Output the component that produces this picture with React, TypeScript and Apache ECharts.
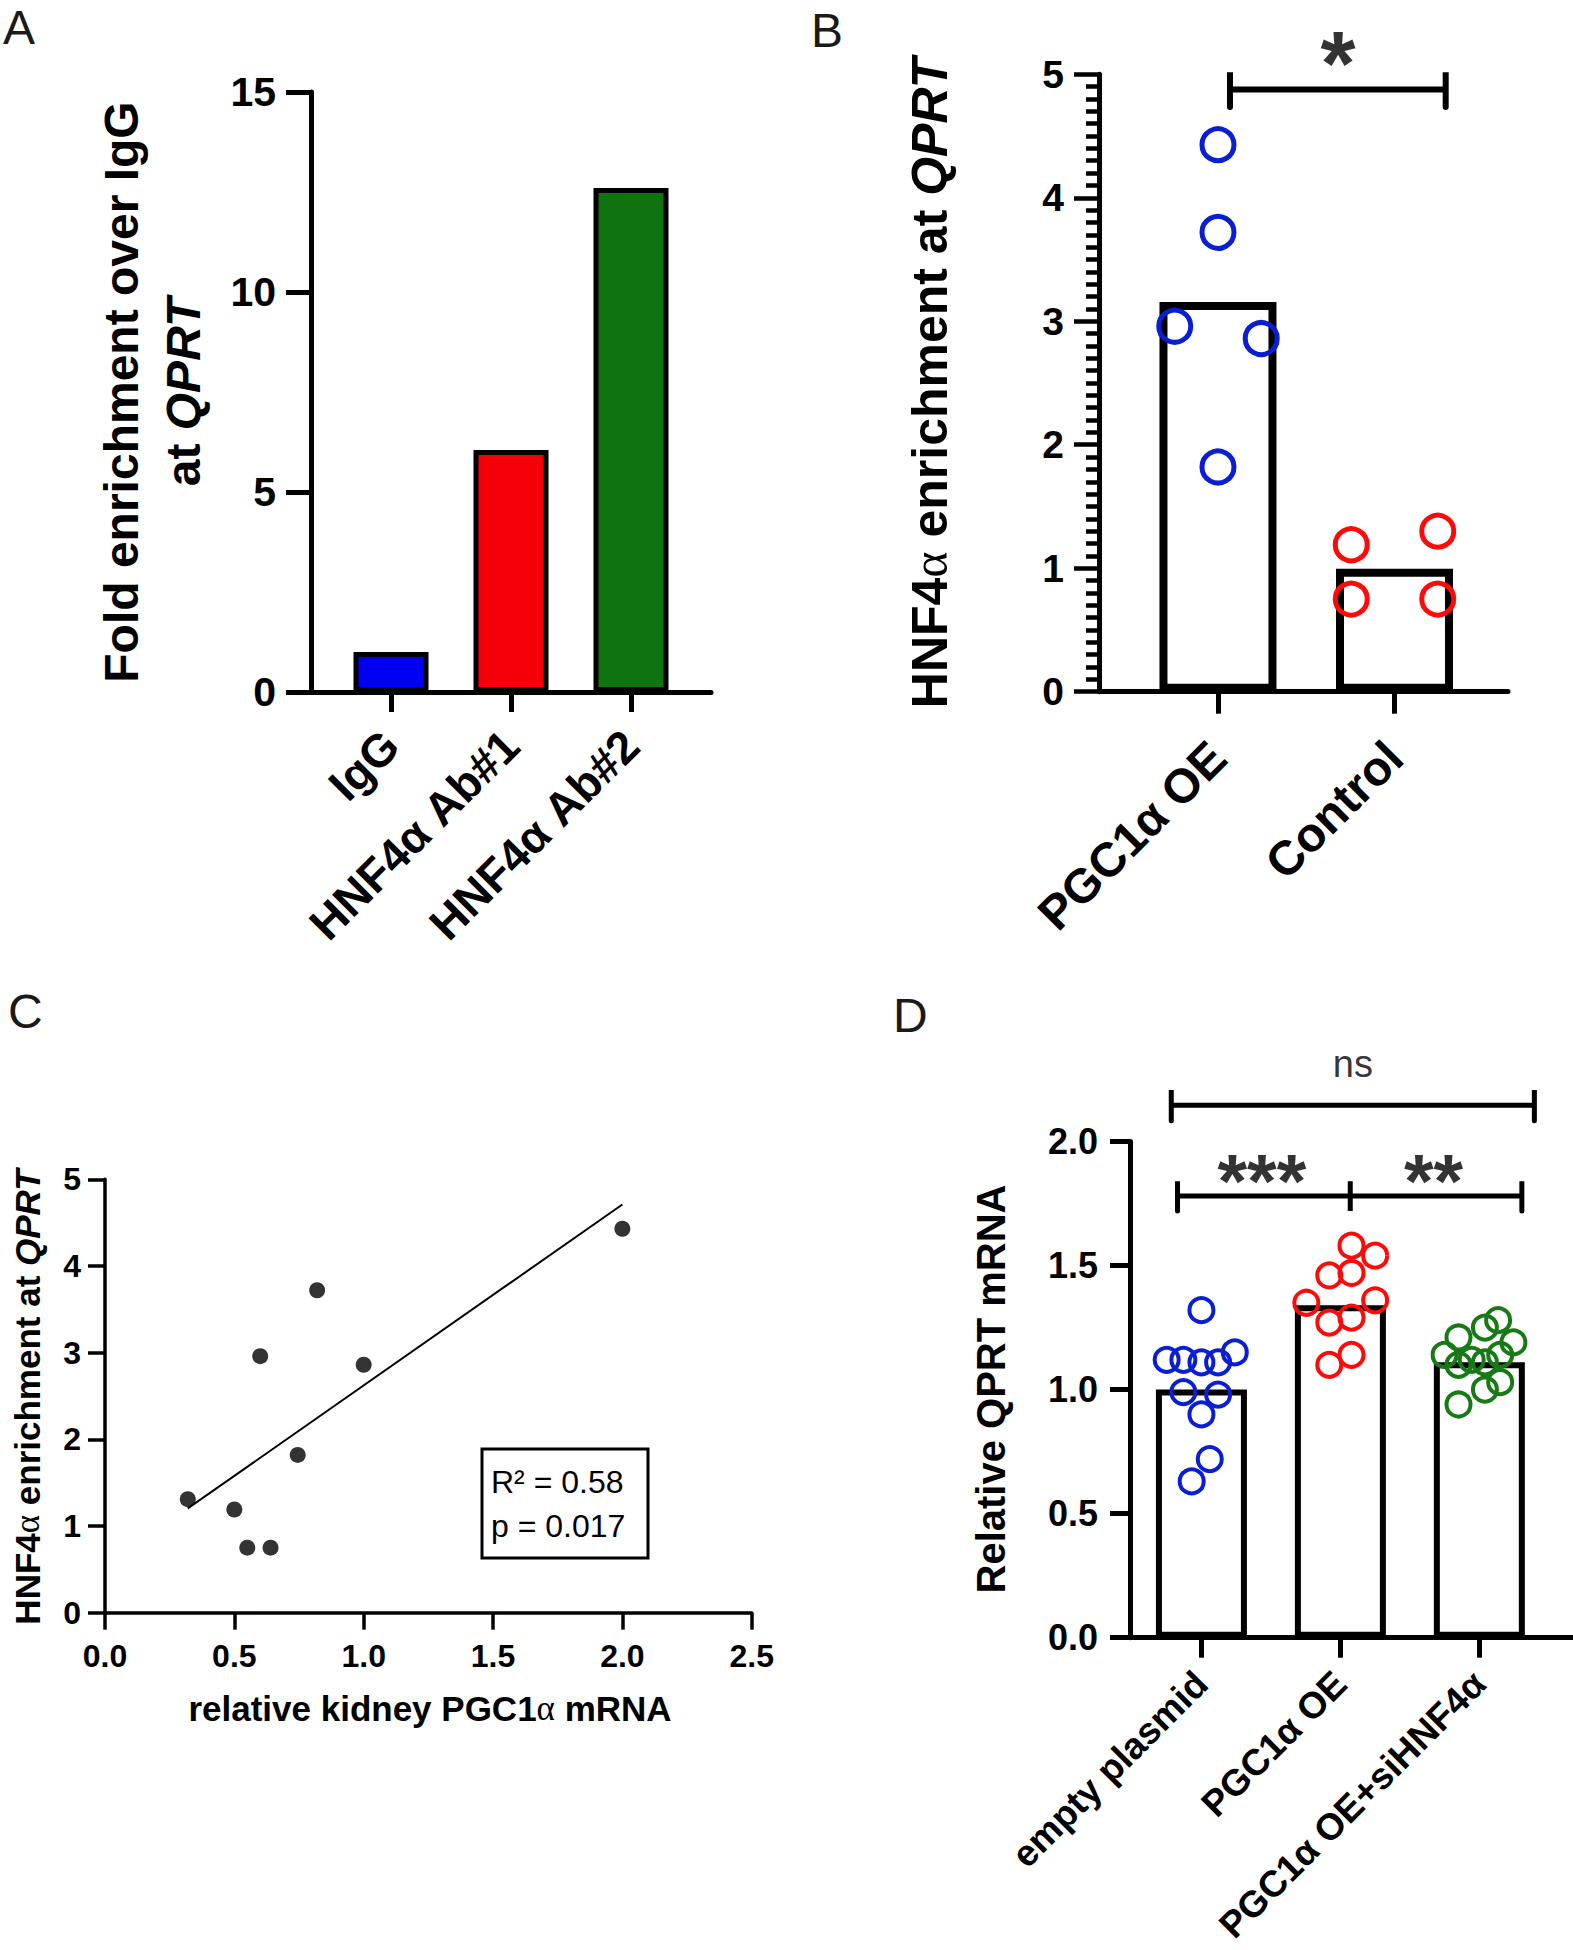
import React, { useEffect, useRef } from 'react';
import * as echarts from 'echarts';

const FONT = '"Liberation Sans", Arial, Helvetica, sans-serif';

// ---------- Panel A ----------
const aCategories = ['IgG', 'HNF4α Ab#1', 'HNF4α Ab#2'];
const aValues = [1.0, 6.05, 12.6];
const aColors = ['#0000f5', '#f5000a', '#0f730f'];

// ---------- Panel B ----------
const bCategories = ['PGC1α OE', 'Control'];
const bMeans = [3.155, 0.995];
const bOE = [4.43, 3.72, 2.96, 2.86, 1.82];
const bOEJitter = [0, 0, -0.245, 0.245, 0];
const bControl = [1.19, 1.3, 0.75, 0.75];
const bControlJitter = [-0.245, 0.245, -0.245, 0.245];

// ---------- Panel C ----------
const cX = [0.32, 0.5, 0.55, 0.64, 0.6, 0.745, 0.82, 1.0, 2.0];
const cY = [1.31, 1.19, 0.75, 0.75, 2.96, 1.82, 3.72, 2.86, 4.43];
const cR2 = '0.58';
const cP = '0.017';

// ---------- Panel D ----------
const dCategories = ['empty plasmid', 'PGC1α OE', 'PGC1α OE+siHNF4α'];
const dMeans = [1.0, 1.34, 1.11];
const dEmpty = [1.32, 1.12, 1.12, 1.11, 1.11, 1.15, 0.99, 0.98, 0.9, 0.72, 0.63];
const dEmptyJitter = [0, -0.25, -0.13, 0, 0.12, 0.24, -0.13, 0.12, 0, 0.06, -0.07];
const dOE = [1.58, 1.54, 1.46, 1.47, 1.35, 1.36, 1.27, 1.29, 1.14, 1.1];
const dOEJitter = [0.08, 0.25, -0.08, 0.08, -0.245, 0.25, -0.08, 0.08, 0.08, -0.08];
const dSi = [1.28, 1.25, 1.19, 1.21, 1.14, 1.14, 1.1, 1.12, 1.11, 1.03, 1.0, 0.94];
const dSiJitter = [0.135, 0.04, 0.245, -0.15, -0.25, 0.15, -0.15, -0.055, 0.04, 0.15, 0.04, -0.15];

const BLUE = '#0a1ed2';
const RED = '#ff0a0a';
const GREEN = '#177a17';

function bracket(x1: number, x2: number, y: number, cap: number, mid?: number) {
  const pts: number[][] = [[x1, y - cap], [x1, y + cap], [x1, y]];
  if (mid !== undefined) {
    pts.push([mid, y], [mid, y + cap], [mid, y - cap], [mid, y]);
  }
  pts.push([x2, y], [x2, y + cap], [x2, y - cap]);
  return pts;
}

function regression(xs: number[], ys: number[]) {
  const n = xs.length;
  const mx = xs.reduce((a, b) => a + b, 0) / n;
  const my = ys.reduce((a, b) => a + b, 0) / n;
  let sxy = 0;
  let sxx = 0;
  for (let i = 0; i < n; i++) {
    sxy += (xs[i] - mx) * (ys[i] - my);
    sxx += (xs[i] - mx) * (xs[i] - mx);
  }
  const slope = sxy / sxx;
  const icpt = my - slope * mx;
  const x0 = Math.min(...xs);
  const x1 = Math.max(...xs);
  return [[x0, icpt + slope * x0], [x1, icpt + slope * x1]];
}

function catXAxis(gridIndex: number, min: number, max: number, cats: string[], o: any) {
  const vals = cats.map((_, i) => i);
  return {
    gridIndex,
    type: 'value',
    min,
    max,
    axisLine: { onZero: false, lineStyle: { color: '#000', width: o.lineW } },
    axisTick: { customValues: vals, length: o.tickLen, lineStyle: { color: '#000', width: o.lineW } },
    axisLabel: {
      customValues: vals,
      formatter: (v: number) => cats[Math.round(v)] ?? '',
      rotate: 45,
      fontSize: o.fontSize,
      fontWeight: 'bold',
      fontFamily: FONT,
      color: '#000',
      margin: o.margin,
    },
    splitLine: { show: false },
  };
}

function valAxis(gridIndex: number, o: any) {
  return {
    gridIndex,
    type: 'value',
    min: o.min,
    max: o.max,
    interval: o.interval,
    axisLine: { show: true, onZero: false, lineStyle: { color: '#000', width: o.lineW } },
    axisTick: { show: true, length: o.tickLen, lineStyle: { color: '#000', width: o.tickW ?? o.lineW } },
    minorTick: o.minor
      ? { show: true, splitNumber: 10, length: o.minor, lineStyle: { color: '#000', width: o.tickW ?? o.lineW } }
      : { show: false },
    axisLabel: {
      formatter: o.formatter,
      fontSize: o.fontSize,
      fontWeight: 'bold',
      fontFamily: FONT,
      color: '#000',
      margin: o.margin,
      showMinLabel: true,
      showMaxLabel: true,
    },
    splitLine: { show: false },
  };
}

function buildOption(): any {
  const openCircle = (color: string, size: number, bw: number) => ({
    symbol: 'circle',
    symbolSize: size,
    itemStyle: { color: 'rgba(255,255,255,0)', borderColor: color, borderWidth: bw, opacity: 1 },
  });
  const textMark = (x: number, y: number, text: string, size: number, weight: string, dy: number, xi: number) => ({
    type: 'scatter',
    xAxisIndex: xi,
    yAxisIndex: xi,
    clip: false,
    silent: true,
    symbolSize: 1,
    itemStyle: { color: 'rgba(0,0,0,0)' },
    label: {
      show: true,
      position: 'inside',
      formatter: text,
      fontSize: size,
      fontWeight: weight,
      fontFamily: FONT,
      color: '#000',
      offset: [0, dy],
    },
    data: [[x, y]],
  });
  const bracketSeries = (xi: number, pts: number[][], w: number) => ({
    type: 'line',
    xAxisIndex: xi,
    yAxisIndex: xi,
    clip: false,
    silent: true,
    symbol: 'none',
    lineStyle: { color: '#000', width: w, cap: 'round', join: 'miter' },
    data: pts,
  });
  const letter = (t: string, x: number, y: number) => ({
    type: 'text',
    x,
    y,
    style: { text: t, font: `48px ${FONT}`, fill: '#1a1a1a', verticalAlign: 'middle' },
  });

  return {
    animation: false,
    backgroundColor: '#fff',
    grid: [
      { left: 311, top: 92, width: 400, height: 600, outerBoundsMode: 'none' },
      { left: 1099, top: 74.3, width: 409, height: 617.4, outerBoundsMode: 'none' },
      { left: 105, top: 1179.3, width: 646.7, height: 433.4, outerBoundsMode: 'none' },
      { left: 1130, top: 1141.5, width: 443, height: 496.2, outerBoundsMode: 'none' },
    ],
    xAxis: [
      catXAxis(0, -0.6667, 2.6667, aCategories, { lineW: 5, tickLen: 20, fontSize: 46, margin: 46 }),
      catXAxis(1, -0.674, 1.643, bCategories, { lineW: 5, tickLen: 22, fontSize: 48, margin: 58 }),
      {
        gridIndex: 2,
        type: 'value',
        min: 0,
        max: 2.5,
        interval: 0.5,
        axisLine: { onZero: false, lineStyle: { color: '#000', width: 3.5 } },
        axisTick: { length: 17, lineStyle: { color: '#000', width: 3.5 } },
        axisLabel: {
          formatter: (v: number) => v.toFixed(1),
          fontSize: 32,
          fontWeight: 'bold',
          fontFamily: FONT,
          color: '#000',
          margin: 27,
          showMinLabel: true,
          showMaxLabel: true,
        },
        splitLine: { show: false },
      },
      catXAxis(3, -0.514, 2.674, dCategories, { lineW: 5, tickLen: 20, fontSize: 37, margin: 40 }),
    ],
    yAxis: [
      valAxis(0, { min: 0, max: 15, interval: 5, lineW: 5, tickLen: 25, fontSize: 41, margin: 35 }),
      valAxis(1, { min: 0, max: 5, interval: 1, lineW: 5, tickW: 4.5, tickLen: 25, minor: 13, fontSize: 39, margin: 35 }),
      valAxis(2, { min: 0, max: 5, interval: 1, lineW: 3.5, tickLen: 17, fontSize: 32, margin: 24 }),
      valAxis(3, {
        min: 0,
        max: 2,
        interval: 0.5,
        lineW: 5,
        tickLen: 20,
        fontSize: 36,
        margin: 32,
        formatter: (v: number) => v.toFixed(1),
      }),
    ],
    series: [
      // Panel A bars
      {
        type: 'bar',
        xAxisIndex: 0,
        yAxisIndex: 0,
        barWidth: 75,
        itemStyle: { borderColor: '#000', borderWidth: 5 },
        data: aValues.map((v, i) => ({ value: [i, v], itemStyle: { color: aColors[i] } })),
      },
      // Panel B bars + points
      {
        type: 'bar',
        xAxisIndex: 1,
        yAxisIndex: 1,
        barWidth: 117,
        itemStyle: { color: '#fff', borderColor: '#000', borderWidth: 8 },
        data: bMeans.map((v, i) => [i, v]),
      },
      {
        type: 'scatter',
        xAxisIndex: 1,
        yAxisIndex: 1,
        ...openCircle(BLUE, 32, 5),
        data: bOE.map((v, i) => [0 + bOEJitter[i], v]),
      },
      {
        type: 'scatter',
        xAxisIndex: 1,
        yAxisIndex: 1,
        ...openCircle(RED, 32, 5),
        data: bControl.map((v, i) => [1 + bControlJitter[i], v]),
      },
      bracketSeries(1, bracket(0.068, 1.29, 4.876, 0.14), 6),
      textMark(0.68, 5.196, '*', 90, 'bold', 14, 1),
      // Panel C
      {
        type: 'line',
        xAxisIndex: 2,
        yAxisIndex: 2,
        symbol: 'none',
        silent: true,
        lineStyle: { color: '#000', width: 2 },
        data: regression(cX, cY),
      },
      {
        type: 'scatter',
        xAxisIndex: 2,
        yAxisIndex: 2,
        symbol: 'circle',
        symbolSize: 16,
        itemStyle: { color: '#000' },
        data: cX.map((x, i) => [x, cY[i]]),
      },
      // Panel D
      {
        type: 'bar',
        xAxisIndex: 3,
        yAxisIndex: 3,
        barWidth: 91,
        itemStyle: { color: '#fff', borderColor: '#000', borderWidth: 6 },
        data: dMeans.map((v, i) => [i, v]),
      },
      {
        type: 'scatter',
        xAxisIndex: 3,
        yAxisIndex: 3,
        ...openCircle(BLUE, 24, 4),
        data: dEmpty.map((v, i) => [0 + dEmptyJitter[i], v]),
      },
      {
        type: 'scatter',
        xAxisIndex: 3,
        yAxisIndex: 3,
        ...openCircle(RED, 24, 4),
        data: dOE.map((v, i) => [1 + dOEJitter[i], v]),
      },
      {
        type: 'scatter',
        xAxisIndex: 3,
        yAxisIndex: 3,
        ...openCircle(GREEN, 24, 4),
        data: dSi.map((v, i) => [2 + dSiJitter[i], v]),
      },
      bracketSeries(3, bracket(-0.217, 2.396, 2.146, 0.062), 5),
      bracketSeries(3, bracket(-0.172, 2.306, 1.78, 0.06, 1.071), 5),
      textMark(0.435, 1.913, '***', 76, 'bold', 17, 3),
      textMark(1.67, 1.913, '**', 76, 'bold', 17, 3),
      textMark(1.09, 2.3, 'ns', 38, 'normal', -3, 3),
    ],
    graphic: [
      letter('A', 3, 27),
      letter('B', 811, 30),
      letter('C', 8, 1011),
      letter('D', 893, 1015),
      {
        type: 'text',
        x: 152,
        y: 392,
        rotation: Math.PI / 2,
        style: {
          text: 'Fold enrichment over IgG\nat {i|QPRT}',
          fontSize: 48,
          fontWeight: 'bold',
          fontFamily: FONT,
          fill: '#000',
          align: 'center',
          verticalAlign: 'middle',
          lineHeight: 62,
          rich: { i: { fontSize: 48, fontWeight: 'bold', fontStyle: 'italic', fontFamily: FONT, lineHeight: 62, fill: '#000' } },
        },
      },
      {
        type: 'text',
        x: 930,
        y: 383,
        rotation: Math.PI / 2,
        style: {
          text: 'HNF4{a|α} enrichment at {i|QPRT}',
          fontSize: 50,
          fontWeight: 'bold',
          fontFamily: FONT,
          fill: '#000',
          align: 'center',
          verticalAlign: 'middle',
          rich: {
            a: { fontSize: 50, fontWeight: 'normal', fontFamily: '"Liberation Serif", serif', fill: '#000' },
            i: { fontSize: 50, fontWeight: 'bold', fontStyle: 'italic', fontFamily: FONT, fill: '#000' },
          },
        },
      },
      {
        type: 'text',
        x: 27,
        y: 1397,
        rotation: Math.PI / 2,
        style: {
          text: 'HNF4{a|α} enrichment at {i|QPRT}',
          fontSize: 35,
          fontWeight: 'bold',
          fontFamily: FONT,
          fill: '#000',
          align: 'center',
          verticalAlign: 'middle',
          rich: {
            a: { fontSize: 35, fontWeight: 'normal', fontFamily: '"Liberation Serif", serif', fill: '#000' },
            i: { fontSize: 35, fontWeight: 'bold', fontStyle: 'italic', fontFamily: FONT, fill: '#000' },
          },
        },
      },
      {
        type: 'text',
        x: 430,
        y: 1708,
        style: {
          text: 'relative kidney PGC1{a|α} mRNA',
          fontSize: 35,
          fontWeight: 'bold',
          fontFamily: FONT,
          fill: '#000',
          align: 'center',
          verticalAlign: 'middle',
          rich: { a: { fontSize: 35, fontWeight: 'normal', fontFamily: '"Liberation Serif", serif', fill: '#000' } },
        },
      },
      {
        type: 'text',
        x: 991,
        y: 1389,
        rotation: Math.PI / 2,
        style: {
          text: 'Relative QPRT mRNA',
          fontSize: 40,
          fontWeight: 'bold',
          fontFamily: FONT,
          fill: '#000',
          align: 'center',
          verticalAlign: 'middle',
        },
      },
      {
        type: 'rect',
        shape: { x: 482, y: 1449, width: 166, height: 109 },
        style: { fill: 'none', stroke: '#000', lineWidth: 3 },
      },
      {
        type: 'text',
        x: 491,
        y: 1482,
        style: { text: `R² = ${cR2}`, font: `32px ${FONT}`, fill: '#000', verticalAlign: 'middle' },
      },
      {
        type: 'text',
        x: 491,
        y: 1526,
        style: { text: `p = ${cP}`, font: `32px ${FONT}`, fill: '#000', verticalAlign: 'middle' },
      },
    ],
  };
}

export default function App() {
  const ref = useRef<HTMLDivElement>(null);
  useEffect(() => {
    if (!ref.current) return;
    const chart = echarts.init(ref.current, null, { renderer: 'svg', width: 1573, height: 1950 });
    chart.setOption(buildOption());
    return () => chart.dispose();
  }, []);
  return (
    <div
      ref={ref}
      style={{ position: 'absolute', left: 0, top: 0, width: 1573, height: 1950, background: '#fff' }}
    />
  );
}
